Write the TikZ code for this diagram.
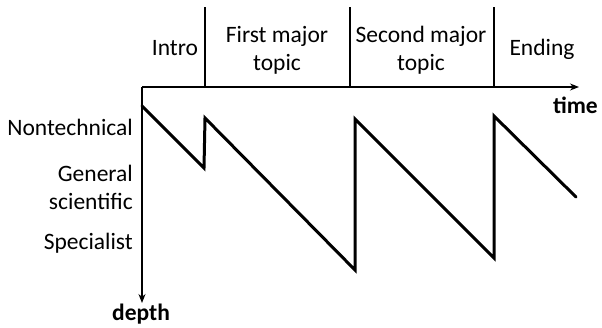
\documentclass[tikz,border=0pt]{standalone}
\usepackage{fontspec}
\setmainfont{Carlito}
\usetikzlibrary{arrows.meta}
\begin{document}
\begin{tikzpicture}[x=1pt,y=-1pt,
  lbl/.style={inner sep=0pt,font=\fontsize{23.5}{28}\selectfont},
  axis/.style={line width=1.1pt,-{Stealth[length=9pt,width=7pt]}},
  divider/.style={line width=1.1pt},
  zig/.style={line width=3pt,line join=miter,line cap=round}]
\useasboundingbox (0,0) rectangle (602,327);
\coordinate (o) at (142,87);
\coordinate (tend) at (579,87);
\coordinate (dend) at (142,303);
\draw[axis] (o) -- (tend);
\draw[axis] (o) -- (dend);
\coordinate (d1t) at (205,7); \coordinate (d1b) at (205,87);
\coordinate (d2t) at (350,7); \coordinate (d2b) at (350,87);
\coordinate (d3t) at (494,7); \coordinate (d3b) at (494,87);
\draw[divider] (d1t) -- (d1b);
\draw[divider] (d2t) -- (d2b);
\draw[divider] (d3t) -- (d3b);
\coordinate (z0) at (142,106);
\coordinate (z1) at (204,168);
\coordinate (z2) at (205,118);
\coordinate (z3) at (355,270);
\coordinate (z4) at (355,119);
\coordinate (z5) at (494,258);
\coordinate (z6) at (494,116);
\coordinate (z7) at (576,197);
\draw[zig] (z0) -- (z1) -- (z2) -- (z3) -- (z4) -- (z5) -- (z6) -- (z7);
\node[lbl,anchor=base] (intro) at (175,55) {Intro};
\node[lbl,anchor=base,align=center] (first) at (277,70) {First major\\topic};
\node[lbl,anchor=base,align=center] (second) at (421,70) {Second major\\topic};
\node[lbl,anchor=base] (ending) at (542,55) {Ending};
\node[lbl,anchor=base east,font=\fontsize{23.5}{28}\selectfont\bfseries] (time) at (598,113) {time};
\node[lbl,anchor=base east] (nontech) at (133,135) {Nontechnical};
\node[lbl,anchor=base east,align=right] (gen) at (133,209) {General\\scientific};
\node[lbl,anchor=base east] (spec) at (133,249) {Specialist};
\node[lbl,anchor=base,font=\fontsize{23.5}{28}\selectfont\bfseries] (depth) at (141,320) {depth};
\end{tikzpicture}
\end{document}
